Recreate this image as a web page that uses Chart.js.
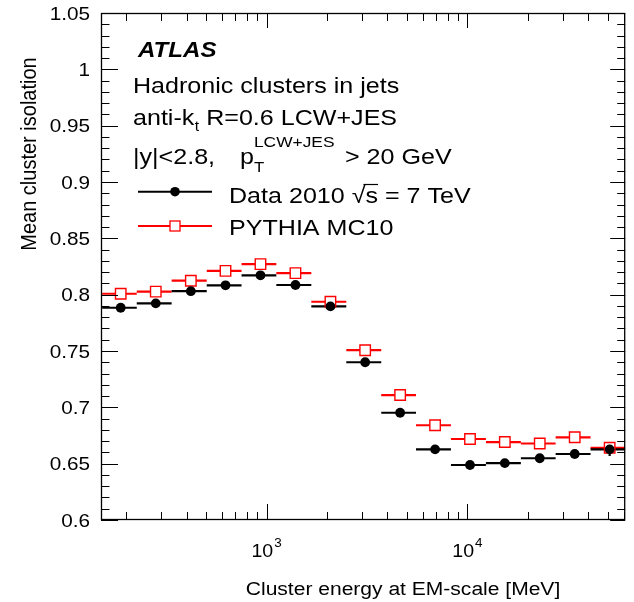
<!DOCTYPE html>
<html><head><meta charset="utf-8">
<script src="https://cdn.jsdelivr.net/npm/chart.js@4.4.1/dist/chart.umd.min.js"></script>
<style>html,body{margin:0;padding:0;background:#fff;} canvas{display:block;}</style>
</head><body>
<canvas id="c" width="634" height="602"></canvas>
<script>
// ---- data ----
const binCenters = [188, 281, 420, 625, 933, 1393, 2080, 3097, 4624, 6902, 10300, 15350, 22910, 34200, 51050];
const binEdges   = [152, 226, 337, 504, 751, 1119, 1671, 2495, 3724, 5546, 8279, 12360, 18450, 27480, 41020, 61240];
const dataIso    = [0.7884, 0.7923, 0.8031, 0.8083, 0.8172, 0.8086, 0.7896, 0.7400, 0.6952, 0.6627, 0.6488, 0.6505, 0.6548, 0.6586, 0.6627];
const dataErr    = [0.001, 0.001, 0.001, 0.001, 0.001, 0.001, 0.001, 0.001, 0.001, 0.001, 0.001, 0.001, 0.001, 0.002, 0.006];
const mcIso      = [0.8008, 0.8027, 0.8124, 0.8211, 0.8271, 0.8191, 0.7937, 0.7507, 0.7109, 0.6841, 0.6719, 0.6692, 0.6679, 0.6734, 0.6641];
const yTickValues = [0.6, 0.65, 0.7, 0.75, 0.8, 0.85, 0.9, 0.95, 1.0, 1.05];
const yTickLabels = ['0.6', '0.65', '0.7', '0.75', '0.8', '0.85', '0.9', '0.95', '1', '1.05'];
const xTickValues = [1000, 10000];
const xTickExponents = ['3', '4'];

const FONT = '"Liberation Sans", Arial, Helvetica, sans-serif';
const SX = 1.12;

function points(xs, ys) { return xs.map((x, i) => ({x: x, y: ys[i]})); }
function hBars(edges, ys) {
  const out = [];
  ys.forEach((v, i) => { out.push({x: edges[i], y: v}, {x: edges[i + 1], y: v}, {x: edges[i + 1], y: null}); });
  return out;
}
function vBars(xs, ys, es) {
  const out = [];
  ys.forEach((v, i) => { out.push({x: xs[i], y: v - es[i]}, {x: xs[i], y: v + es[i]}, {x: xs[i], y: null}); });
  return out;
}

function txt(ctx, s, x, y, size, opts) {
  opts = opts || {};
  ctx.save();
  ctx.font = (opts.style ? opts.style + ' ' : '') + size + 'px ' + FONT;
  ctx.fillStyle = '#000';
  ctx.translate(x, y);
  ctx.scale(SX, 1);
  if (opts.rot) ctx.rotate(opts.rot);
  ctx.textAlign = opts.align || 'left';
  ctx.textBaseline = 'alphabetic';
  ctx.fillText(s, 0, 0);
  const w = ctx.measureText(s).width * SX;
  ctx.restore();
  return w;
}
function seg(ctx, x1, y1, x2, y2) { ctx.beginPath(); ctx.moveTo(x1, y1); ctx.lineTo(x2, y2); ctx.stroke(); }

const decor = {
  id: 'decor',
  afterDraw(chart) {
    const {ctx, chartArea: a, scales: {x, y}} = chart;
    ctx.save();
    ctx.strokeStyle = '#000';
    // frame
    ctx.lineWidth = 1.3;
    ctx.strokeRect(a.left + 0.5, a.top + 0.5, a.right - a.left - 1, a.bottom - a.top - 1);
    ctx.lineWidth = 1;
    // y ticks (left & right)
    for (let i = 0; i <= 45; i++) {
      const py = Math.round(y.getPixelForValue(0.6 + i * 0.01)) + 0.5;
      const major = i % 5 === 0;
      seg(ctx, a.left, py, a.left + (major ? 17 : 8.5), py);
      seg(ctx, a.right, py, a.right - (major ? 15 : 8), py);
    }
    // x ticks (bottom & top)
    [100, 1000, 10000].forEach(dec => {
      for (let m = 1; m <= 9; m++) {
        const v = m * dec;
        if (v < x.min || v > x.max) continue;
        const px = Math.round(x.getPixelForValue(v)) + 0.5;
        const major = m === 1;
        seg(ctx, px, a.bottom, px, a.bottom - (major ? 16 : 8));
        seg(ctx, px, a.top, px, a.top + (major ? 15 : 8));
      }
    });
    // y tick labels
    yTickValues.forEach((v, i) => {
      const py = y.getPixelForValue(v);
      txt(ctx, yTickLabels[i], 90, py + 6.8, 18.5, {align: 'right'});
    });
    // x tick labels 10^n
    xTickValues.forEach((v, i) => {
      const px = x.getPixelForValue(v);
      ctx.font = '17.5px ' + FONT;
      const w1 = ctx.measureText('10').width * SX;
      ctx.font = '12px ' + FONT;
      const w2 = ctx.measureText(xTickExponents[i]).width * SX;
      const x0 = px - (w1 + 1 + w2) / 2;
      txt(ctx, '10', x0, 557, 17.5);
      txt(ctx, xTickExponents[i], x0 + w1 + 1, 547, 12);
    });
    // axis titles
    txt(ctx, 'Cluster energy at EM-scale [MeV]', 403, 595, 18.8, {align: 'center'});
    txt(ctx, 'Mean cluster isolation', 36, 154, 20, {align: 'center', rot: -Math.PI / 2});

    // annotations
    txt(ctx, 'ATLAS', 138, 57, 21.5, {style: 'italic bold'});
    txt(ctx, 'Hadronic clusters in jets', 133, 93, 22.4);
    let cx = 133;
    cx += txt(ctx, 'anti-k', cx, 125, 22.4);
    cx += txt(ctx, 't', cx + 0.5, 131, 14) + 0.5;
    txt(ctx, ' R=0.6 LCW+JES', cx, 125, 22.4);
    txt(ctx, '|y|<2.8,', 133, 164, 22.4);
    const pw = txt(ctx, 'p', 240, 164, 22.4);
    txt(ctx, 'T', 240 + pw, 172, 15);
    txt(ctx, 'LCW+JES', 240 + pw, 147, 15.5);
    txt(ctx, '> 20 GeV', 345, 164, 22.4);

    // legend
    ctx.lineWidth = 2;
    ctx.strokeStyle = '#000';
    seg(ctx, 138, 191.7, 212, 191.7);
    ctx.fillStyle = '#000';
    ctx.beginPath(); ctx.arc(175, 191.7, 4.8, 0, Math.PI * 2); ctx.fill();
    ctx.strokeStyle = '#ff0000';
    seg(ctx, 138, 226, 212, 226);
    ctx.fillStyle = '#fff';
    ctx.fillRect(170, 221, 10, 10);
    ctx.lineWidth = 1.3;
    ctx.strokeRect(170, 221, 10, 10);
    let lx = 229;
    lx += txt(ctx, 'Data 2010 ', lx, 203, 22.4);
    const rw = txt(ctx, '\u221A', lx, 203, 22.4);
    const sx0 = lx + rw * 0.85;
    lx += rw;
    const sw = txt(ctx, 's', lx, 203, 22.4);
    ctx.strokeStyle = '#000';
    ctx.lineWidth = 1.2;
    seg(ctx, sx0, 184.5, lx + sw, 184.5);
    lx += sw;
    txt(ctx, ' = 7 TeV', lx, 203, 22.4);
    txt(ctx, 'PYTHIA MC10', 229, 235, 22.4);
    ctx.restore();
  }
};

new Chart(document.getElementById('c'), {
  type: 'scatter',
  data: {
    datasets: [
      {label: 'Data 2010', data: points(binCenters, dataIso), pointStyle: 'circle', pointRadius: 4.9,
       pointBackgroundColor: '#000', pointBorderWidth: 0, showLine: false},
      {label: 'PYTHIA MC10', data: points(binCenters, mcIso), pointStyle: 'rect', pointRadius: 7.4,
       pointBackgroundColor: '#fff', pointBorderColor: '#ff0000', pointBorderWidth: 1.4, showLine: false},
      {label: 'Data bins', data: hBars(binEdges, dataIso).concat(vBars(binCenters, dataIso, dataErr)),
       showLine: true, spanGaps: false, borderColor: '#000', borderWidth: 2.2, pointRadius: 0},
      {label: 'MC bins', data: hBars(binEdges, mcIso),
       showLine: true, spanGaps: false, borderColor: '#ff0000', borderWidth: 2.2, pointRadius: 0}
    ]
  },
  options: {
    responsive: false,
    animation: false,
    devicePixelRatio: 1,
    events: [],
    layout: {padding: {left: 101, right: 6, top: 13, bottom: 82}},
    plugins: {legend: {display: false}, tooltip: {enabled: false}},
    scales: {
      x: {type: 'logarithmic', min: 150, max: 61000, display: false},
      y: {type: 'linear', min: 0.6, max: 1.05, display: false}
    }
  },
  plugins: [decor]
});
</script>
</body></html>
